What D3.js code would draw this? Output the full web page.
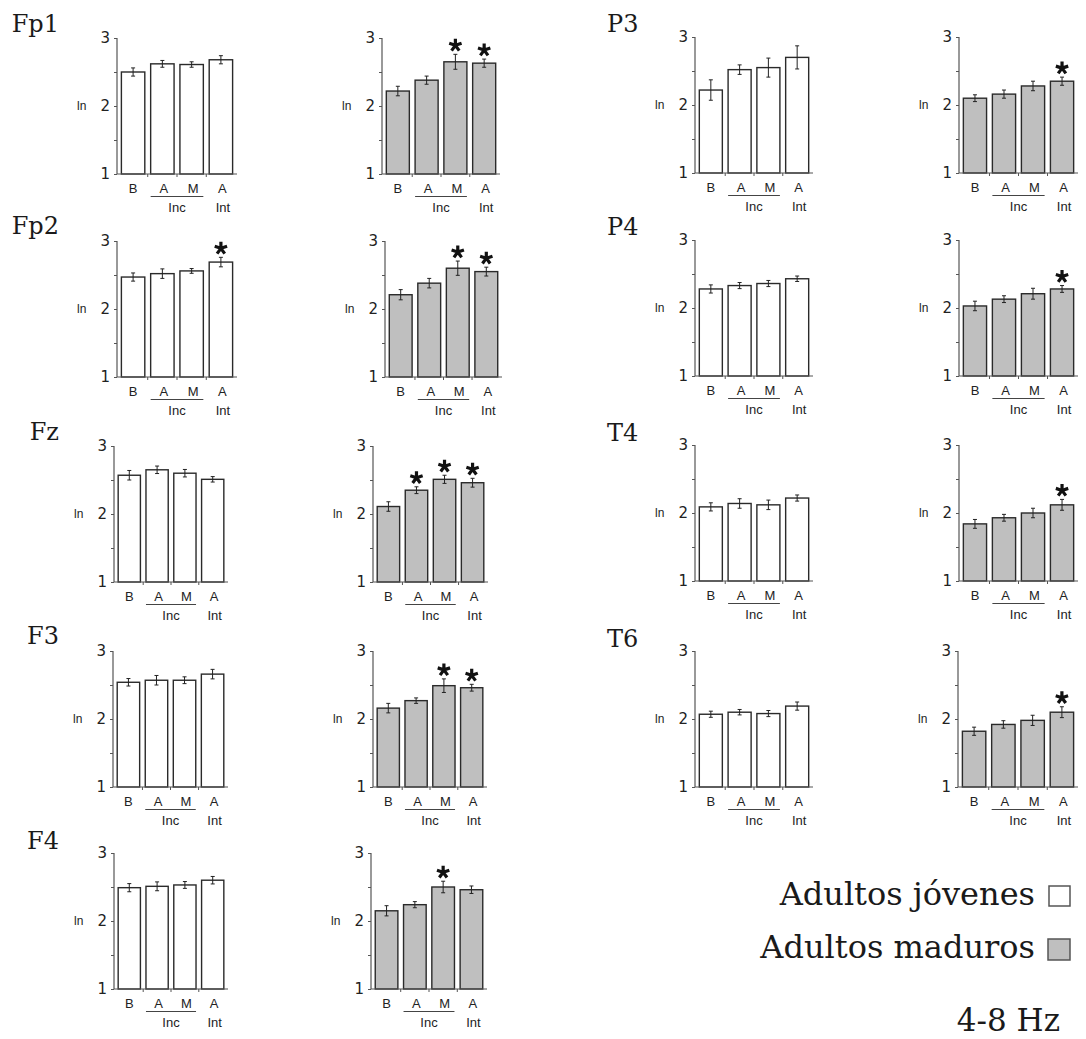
<!DOCTYPE html>
<html>
<head>
<meta charset="utf-8">
<script src="https://cdn.jsdelivr.net/npm/d3@7"></script>
<style>
  html, body { margin: 0; padding: 0; background: #fff; }
  svg { display: block; }
</style>
</head>
<body>
<svg id="chart" width="1086" height="1039"></svg>
<script>
// Theta band (4-8 Hz) log power per electrode and condition
const electrodes = ["Fp1", "Fp2", "Fz", "F3", "F4", "P3", "P4", "T4", "T6"];
const conditions = ["B", "A", "M", "A"];
const groupLabels = ["Inc", "Int"];
const yTickValues = [1, 1.5, 2, 2.5, 3];
const yDomain = [1, 3];

// Young adults: means and standard errors (B, Inc-A, Inc-M, Int-A)
const youngMean = [
  [2.50, 2.62, 2.61, 2.68],
  [2.47, 2.52, 2.56, 2.69],
  [2.57, 2.65, 2.60, 2.51],
  [2.54, 2.57, 2.57, 2.66],
  [2.49, 2.51, 2.53, 2.60],
  [2.22, 2.52, 2.55, 2.70],
  [2.28, 2.33, 2.36, 2.43],
  [2.09, 2.14, 2.12, 2.22],
  [2.07, 2.10, 2.08, 2.19]
];
const youngErr = [
  [0.06, 0.05, 0.04, 0.06],
  [0.06, 0.07, 0.035, 0.07],
  [0.07, 0.055, 0.055, 0.04],
  [0.055, 0.07, 0.05, 0.07],
  [0.06, 0.065, 0.05, 0.055],
  [0.15, 0.07, 0.14, 0.17],
  [0.06, 0.045, 0.045, 0.04],
  [0.06, 0.07, 0.07, 0.045],
  [0.045, 0.04, 0.045, 0.06]
];

// Mature adults: means and standard errors
const matureMean = [
  [2.22, 2.38, 2.65, 2.63],
  [2.21, 2.38, 2.60, 2.55],
  [2.11, 2.35, 2.51, 2.46],
  [2.16, 2.27, 2.49, 2.46],
  [2.15, 2.24, 2.50, 2.46],
  [2.10, 2.16, 2.28, 2.35],
  [2.03, 2.13, 2.21, 2.28],
  [1.84, 1.93, 2.00, 2.12],
  [1.82, 1.92, 1.98, 2.10]
];
const matureErr = [
  [0.07, 0.06, 0.11, 0.06],
  [0.075, 0.07, 0.105, 0.065],
  [0.07, 0.05, 0.06, 0.065],
  [0.07, 0.04, 0.10, 0.05],
  [0.075, 0.045, 0.085, 0.055],
  [0.05, 0.06, 0.07, 0.06],
  [0.07, 0.05, 0.08, 0.05],
  [0.065, 0.05, 0.07, 0.08],
  [0.06, 0.055, 0.075, 0.08]
];

// Conditions that differ significantly from baseline
const youngSig = [[], [3], [], [], [], [], [], [], []];
const matureSig = [[2, 3], [2, 3], [1, 2, 3], [2, 3], [2], [3], [3], [3], [3]];

const legendLabels = ["Adultos jóvenes", "Adultos maduros"];
const bandLabel = "4-8 Hz";

// ---- layout ----
const panelHeight = 136;
// per electrode: title anchor, title baseline, panel top, young x/width, mature x/width
const layout = [
  { tx: 59, anchor: "end", tb: 32, top: 38, yx: 117, yw: 120, mx: 382, mw: 118 },
  { tx: 59, anchor: "end", tb: 234, top: 241, yx: 117, yw: 120, mx: 385, mw: 117 },
  { tx: 59, anchor: "end", tb: 440, top: 446, yx: 114, yw: 114, mx: 373, mw: 115 },
  { tx: 59, anchor: "end", tb: 644, top: 651, yx: 113, yw: 115, mx: 373, mw: 114 },
  { tx: 59, anchor: "end", tb: 849, top: 853, yx: 114, yw: 114, mx: 371, mw: 116 },
  { tx: 607, anchor: "start", tb: 32, top: 37, yx: 695, yw: 118, mx: 959, mw: 119 },
  { tx: 607, anchor: "start", tb: 235, top: 240, yx: 695, yw: 118, mx: 959, mw: 119 },
  { tx: 607, anchor: "start", tb: 441, top: 445, yx: 695, yw: 118, mx: 959, mw: 119 },
  { tx: 607, anchor: "start", tb: 647, top: 651, yx: 695, yw: 118, mx: 958, mw: 120 }
];

const youngFill = "#ffffff";
const matureFill = "#bfbfbf";
const serif = "'DejaVu Serif', serif";
const sans = "'Liberation Sans', Arial, sans-serif";
const axisFont = "'DejaVu Sans', sans-serif";

const svg = d3.select("#chart");
svg.append("rect").attr("width", 1086).attr("height", 1039).attr("fill", "#fff");

// five-armed asterisk used as significance marker
function asteriskPath(r) {
  const p = d3.path();
  for (let k = 0; k < 5; k++) {
    const a = -Math.PI / 2 + k * 2 * Math.PI / 5;
    p.moveTo(0, 0);
    p.lineTo(r * Math.cos(a), r * Math.sin(a));
  }
  return p.toString();
}

function drawPanel(x0, width, top, means, errs, sig, fill) {
  const g = svg.append("g").attr("transform", `translate(${x0},${top})`);
  const y = d3.scaleLinear().domain(yDomain).range([panelHeight, 0]);
  const x = d3.scaleBand().domain(d3.range(conditions.length))
    .range([0, width]).paddingInner(0.2).paddingOuter(0.15);

  // bars
  g.selectAll("rect.bar").data(means).join("rect")
    .attr("class", "bar")
    .attr("x", (d, i) => x(i))
    .attr("width", x.bandwidth())
    .attr("y", d => y(d))
    .attr("height", d => y(yDomain[0]) - y(d))
    .attr("fill", fill)
    .attr("stroke", "#2a2a2a")
    .attr("stroke-width", 1.4);

  // error bars
  const eb = g.selectAll("g.err").data(means).join("g").attr("class", "err")
    .attr("transform", (d, i) => `translate(${x(i) + x.bandwidth() / 2},0)`);
  eb.append("line")
    .attr("y1", (d, i) => y(d - errs[i])).attr("y2", (d, i) => y(d + errs[i]))
    .attr("stroke", "#222").attr("stroke-width", 1);
  [-1, 1].forEach(s => {
    eb.append("line")
      .attr("x1", -2).attr("x2", 2)
      .attr("y1", (d, i) => y(d + s * errs[i])).attr("y2", (d, i) => y(d + s * errs[i]))
      .attr("stroke", "#222").attr("stroke-width", 1);
  });

  // significance markers
  g.selectAll("path.sig").data(sig).join("path")
    .attr("class", "sig")
    .attr("d", asteriskPath(6.5))
    .attr("transform", i => `translate(${x(i) + x.bandwidth() / 2},${y(means[i] + errs[i]) - 9})`)
    .attr("stroke", "#111").attr("stroke-width", 3.2).attr("fill", "none");

  // y axis
  const yAxis = d3.axisLeft(y).tickValues(yTickValues).tickSize(3)
    .tickFormat(d => Number.isInteger(d) ? d3.format("d")(d) : "");
  const ya = g.append("g").call(yAxis);
  ya.select(".domain").attr("stroke", "#555").attr("stroke-width", 1.2).attr("d", `M0,${panelHeight}V0`);
  ya.selectAll(".tick line").attr("stroke", "#555");
  ya.selectAll(".tick text").attr("x", -7).attr("font-family", axisFont)
    .attr("font-size", 15).attr("fill", "#222");

  g.append("text").attr("x", -40).attr("y", y(2)).attr("dy", "0.35em")
    .attr("font-family", sans).attr("font-size", 12).attr("fill", "#222").text("ln");

  // x axis line with ticks between bars
  g.append("line").attr("x1", 0).attr("x2", width)
    .attr("y1", panelHeight).attr("y2", panelHeight)
    .attr("stroke", "#555").attr("stroke-width", 1.2);
  d3.range(1, conditions.length).forEach(i => {
    const bx = x(i) - x.step() * x.paddingInner() / 2;
    g.append("line").attr("x1", bx).attr("x2", bx)
      .attr("y1", panelHeight).attr("y2", panelHeight + 3)
      .attr("stroke", "#555").attr("stroke-width", 1);
  });

  g.selectAll("text.cond").data(conditions).join("text")
    .attr("class", "cond")
    .attr("x", (d, i) => x(i) + x.bandwidth() / 2 + (i > 0 ? 1.5 : 0))
    .attr("y", panelHeight + 18.5)
    .attr("text-anchor", "middle")
    .attr("font-family", sans).attr("font-size", 13).attr("fill", "#222")
    .text(d => d);

  // grouping of the incidental conditions
  const incStart = x(1), incEnd = x(2) + x.bandwidth();
  g.append("line").attr("x1", incStart).attr("x2", incEnd)
    .attr("y1", panelHeight + 22.5).attr("y2", panelHeight + 22.5)
    .attr("stroke", "#444").attr("stroke-width", 1.2);
  g.append("text").attr("x", (incStart + incEnd) / 2).attr("y", panelHeight + 37.5)
    .attr("text-anchor", "middle").attr("font-family", sans).attr("font-size", 13)
    .attr("fill", "#222").text(groupLabels[0]);
  g.append("text").attr("x", x(3) + x.bandwidth() / 2 + 2).attr("y", panelHeight + 37.5)
    .attr("text-anchor", "middle").attr("font-family", sans).attr("font-size", 13)
    .attr("fill", "#222").text(groupLabels[1]);
}

electrodes.forEach((name, e) => {
  const L = layout[e];
  svg.append("text").attr("x", L.tx).attr("y", L.tb).attr("text-anchor", L.anchor)
    .attr("font-family", serif).attr("font-size", 24).attr("fill", "#1a1a1a").text(name);
  drawPanel(L.yx, L.yw, L.top, youngMean[e], youngErr[e], youngSig[e], youngFill);
  drawPanel(L.mx, L.mw, L.top, matureMean[e], matureErr[e], matureSig[e], matureFill);
});

// legend
const legendRows = [
  { label: legendLabels[0], fill: youngFill, baseline: 905, box: [1049, 886, 21, 20] },
  { label: legendLabels[1], fill: matureFill, baseline: 958, box: [1048, 939, 22, 21] }
];
legendRows.forEach(r => {
  svg.append("text").attr("x", 1035).attr("y", r.baseline).attr("text-anchor", "end")
    .attr("font-family", serif).attr("font-size", 32).attr("fill", "#1a1a1a").text(r.label);
  svg.append("rect").attr("x", r.box[0]).attr("y", r.box[1])
    .attr("width", r.box[2]).attr("height", r.box[3])
    .attr("fill", r.fill).attr("stroke", "#555").attr("stroke-width", 1.5);
});
svg.append("text").attr("x", 1060).attr("y", 1031).attr("text-anchor", "end")
  .attr("font-family", serif).attr("font-size", 31).attr("fill", "#1a1a1a").text(bandLabel);
</script>
</body>
</html>
